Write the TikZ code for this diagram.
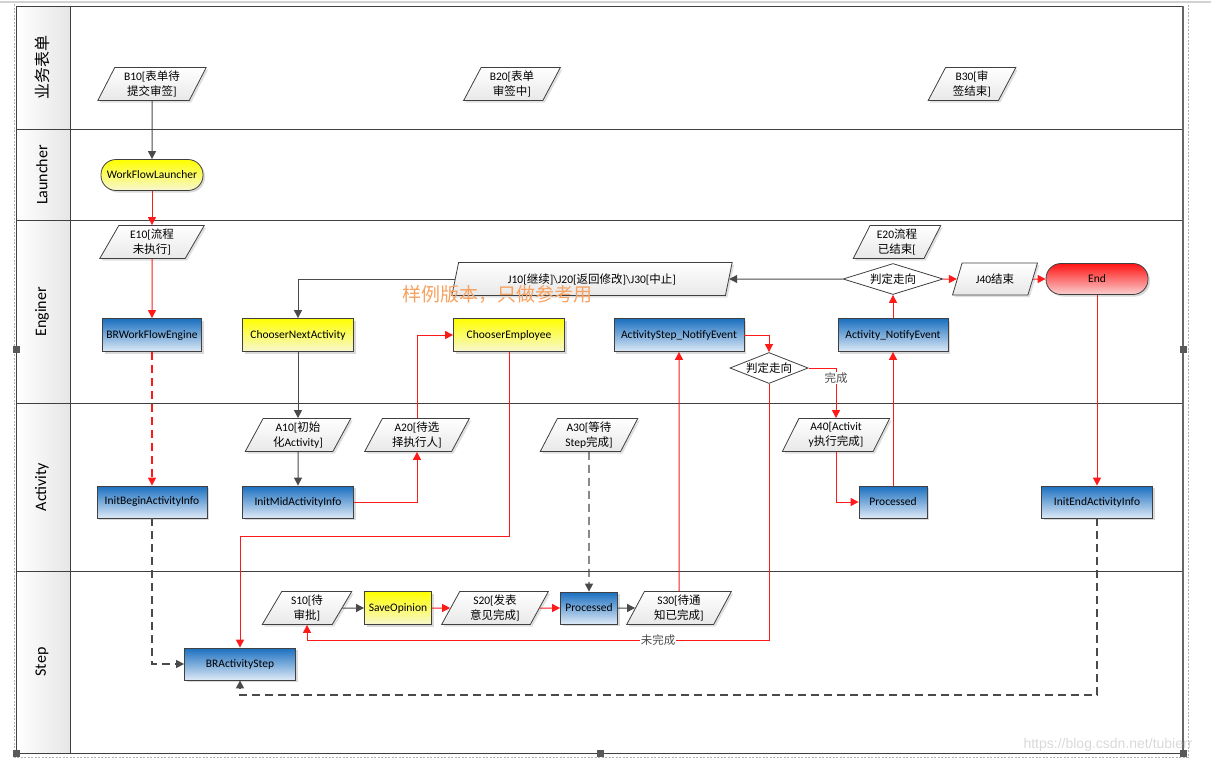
\documentclass[tikz,border=0pt]{standalone}
\usepackage{fontspec}
\setmainfont{Carlito}
\newfontfamily\cjk{Noto Sans CJK SC}
\newfontfamily\webfont{Liberation Sans}
\usetikzlibrary{shapes.geometric,arrows.meta,shadows}
\definecolor{edge}{HTML}{404040}
\definecolor{flowgray}{HTML}{4A4A4A}
\definecolor{flowred}{HTML}{FF1A1A}
\definecolor{bluetop}{HTML}{1A6FC0}
\definecolor{bluebot}{HTML}{DDE9F6}
\definecolor{yeltop}{HTML}{FFFF00}
\definecolor{yelbot}{HTML}{F7F7D0}
\definecolor{redtop}{HTML}{FF1414}
\definecolor{redbot}{HTML}{FAD0D0}
\definecolor{datafill}{HTML}{E8E8E8}
\definecolor{headfill}{HTML}{E6E6E6}
\definecolor{stamp}{HTML}{F7A160}
\newcommand\zh[1]{{\cjk #1}}
\tikzset{
  boxbase/.style={draw=edge, line width=0.8pt, minimum height=33pt, inner sep=2pt,
    font=\fontsize{11.5}{13}\selectfont,
    drop shadow={shadow xshift=2pt, shadow yshift=-2pt, fill=black!15, opacity=1}},
  bluebox/.style={boxbase, top color=bluetop, bottom color=bluebot},
  yellowbox/.style={boxbase, top color=yeltop, bottom color=yelbot},
  pillbox/.style={boxbase, rounded corners=15pt, minimum height=31pt, minimum width=102pt},
  datashape/.style={trapezium, trapezium left angle=65, trapezium right angle=115,
    trapezium stretches=true, draw=edge, line width=0.8pt, minimum height=33pt,
    inner sep=1pt, align=center, font=\fontsize{11.5}{15}\selectfont,
    top color=white, bottom color=datafill,
    drop shadow={shadow xshift=2pt, shadow yshift=-2pt, fill=black!12, opacity=1}},
  decide/.style={diamond, draw=edge, line width=0.8pt, fill=white, inner sep=0pt,
    aspect=3, minimum height=31pt, font=\fontsize{11.5}{13}\selectfont},
  grayline/.style={draw=flowgray, line width=1pt, -{Triangle[length=8pt,width=8pt]}},
  redline/.style={draw=flowred, line width=1pt, -{Triangle[length=8pt,width=8pt]}},
  graydashed/.style={grayline, line width=1.4pt, dash pattern=on 8pt off 5pt},
  reddashed/.style={redline, line width=1.3pt, dash pattern=on 8pt off 5pt},
  lanelab/.style={rotate=90, font=\fontsize{16}{18}\selectfont},
  laneline/.style={draw=edge, line width=1pt},
  tag/.style={fill=white, inner sep=1pt, text=black!70, font=\fontsize{11.5}{13}\selectfont},
}
\begin{document}
\begin{tikzpicture}[x=1pt, y=-1pt]
  \useasboundingbox (0,0) rectangle (1211,763);
  % page and pool frame
  \draw[gray!35, line width=1.5pt] (0,2) -- (1211,2);
  \draw[gray!60, dash pattern=on 2pt off 1.5pt] (14,4) -- (14,757) -- (1188,757) -- (1188,4);
  \shade[left color=white, right color=headfill] (16,6) rectangle (70,753);
  \draw[laneline] (16,6) rectangle (1183,753);
  \draw[laneline] (70,6) -- (70,753);
  \foreach \y in {129,220,403,571}
    \draw[laneline] (16,\y) -- (1183,\y);
  \draw[gray!80!black, line width=2pt] (1183,6) -- (1183,753);
  \foreach \p in {(16,349),(1183,349),(600,753),(16,753),(1183,753)}
    \fill[gray!70!black] \p ++(-3.5,-3.5) rectangle ++(7,7);

  % lane titles
  \node[lanelab] (laneform) at (42,67) {\zh{业务表单}};
  \node[lanelab] (lanelaunch) at (42,175) {Launcher};
  \node[lanelab] (laneengine) at (42,312) {Enginer};
  \node[lanelab] (laneact) at (42,487) {Activity};
  \node[lanelab] (lanestep) at (42,662) {Step};

  % form lane
  \node[datashape, minimum width=109pt] (b10) at (152,84) {B10[\zh{表单待}\\\zh{提交审签}]};
  \node[datashape, minimum width=97pt] (b20) at (512,84) {B20[\zh{表单}\\\zh{审签中}]};
  \node[datashape, minimum width=88pt] (b30) at (972,84) {B30[\zh{审}\\\zh{签结束}]};

  % launcher lane
  \node[pillbox, top color=yeltop, bottom color=yelbot] (launcher) at (152,175) {WorkFlowLauncher};

  % engine lane
  \node[datashape, minimum width=105pt] (e10) at (152,242) {E10[\zh{流程}\\\zh{未执行}]};
  \node[datashape, minimum width=88pt] (e20) at (897,242) {E20\zh{流程}\\\zh{已结束}[};
  \node[bluebox, minimum width=99pt] (engine) at (152,335) {BRWorkFlowEngine};
  \node[yellowbox, minimum width=111pt] (nextact) at (298,335) {ChooserNextActivity};
  \node[yellowbox, minimum width=111pt] (chooseemp) at (509,335) {ChooserEmployee};
  \node[bluebox, minimum width=130pt] (stepnotify) at (679,335) {ActivityStep\_NotifyEvent};
  \node[bluebox, minimum width=110pt] (actnotify) at (893,335) {Activity\_NotifyEvent};
  \node[datashape, minimum width=281pt, trapezium left angle=72, trapezium right angle=108]
    (j10) at (592,279) {J10[\zh{继续}]\textbackslash J20[\zh{返回修改}]\textbackslash J30[\zh{中止}]};
  \node[decide, minimum width=100pt] (judge1) at (893,279) {\zh{判定走向}};
  \node[datashape, minimum width=85pt, minimum height=32pt] (j40) at (995,279) {J40\zh{结束}};
  \node[pillbox, top color=redtop, bottom color=redbot] (endnode) at (1097,279) {End};
  \node[decide, minimum width=73pt] (judge2) at (769,368) {\zh{判定走向}};
  \node[text=stamp, font=\cjk\fontsize{19}{21}\selectfont] (stampmark) at (497,294) {样例版本，只做参考用};

  % activity lane
  \node[datashape, minimum width=106pt] (a10) at (298,435) {A10[\zh{初始}\\\zh{化}Activity]};
  \node[datashape, minimum width=105pt] (a20) at (417,435) {A20[\zh{待选}\\\zh{择执行人}]};
  \node[datashape, minimum width=98pt] (a30) at (589,435) {A30[\zh{等待}\\Step\zh{完成}]};
  \node[datashape, minimum width=108pt] (a40) at (836,435) {A40[Activit\\y\zh{执行完成}]};
  \node[bluebox, minimum width=110pt, minimum height=32pt] (initbegin) at (152,502) {InitBeginActivityInfo};
  \node[bluebox, minimum width=111pt, minimum height=32pt] (initmid) at (298,502) {InitMidActivityInfo};
  \node[bluebox, minimum width=68pt, minimum height=32pt] (procact) at (893,502) {Processed};
  \node[bluebox, minimum width=111pt, minimum height=32pt] (initend) at (1097,502) {InitEndActivityInfo};

  % step lane
  \node[datashape, minimum width=90pt] (s10) at (307,608) {S10[\zh{待}\\\zh{审批}]};
  \node[yellowbox, minimum width=67pt] (saveop) at (398,608) {SaveOpinion};
  \node[datashape, minimum width=107pt] (s20) at (495,608) {S20[\zh{发表}\\\zh{意见完成}]};
  \node[bluebox, minimum width=57pt, minimum height=32pt] (procs) at (589,608) {Processed};
  \node[datashape, minimum width=105pt] (s30) at (679,608) {S30[\zh{待通}\\\zh{知已完成}]};
  \node[bluebox, minimum width=111pt, minimum height=32pt] (brstep) at (240,664) {BRActivityStep};

  % bends
  \coordinate (bendE) at (509,536);
  \coordinate (bendR) at (1097,695);
  \coordinate (bendU) at (769,640);

  % connectors
  \draw[grayline] (b10) -- (launcher);
  \draw[redline] (launcher) -- (e10);
  \draw[redline] (e10) -- (engine);
  \draw[reddashed] (engine) -- (initbegin);
  \draw[graydashed] (initbegin) |- (brstep);
  \draw[grayline] (judge1) -- (j10);
  \draw[grayline] (j10) -| (nextact);
  \draw[redline] (actnotify) -- (judge1);
  \draw[redline] (judge1) -- (j40);
  \draw[redline] (j40) -- (endnode);
  \draw[redline] (endnode) -- (initend);
  \draw[graydashed] (initend) -- (bendR) -| (brstep);
  \draw[grayline] (nextact) -- (a10);
  \draw[grayline] (a10) -- (initmid);
  \draw[redline] (initmid) -| (a20);
  \draw[redline] (a20) |- (chooseemp);
  \draw[redline] (chooseemp) -- (bendE) -| (brstep);
  \draw[graydashed] (a30) -- (procs);
  \draw[grayline] (s10) -- (saveop);
  \draw[redline] (saveop) -- (s20);
  \draw[redline] (s20) -- (procs);
  \draw[grayline] (procs) -- (s30);
  \draw[redline] (s30) -- (stepnotify);
  \draw[redline] (stepnotify) -| (judge2);
  \draw[redline] (judge2) -| node[tag, pos=0.6] {\zh{完成}} (a40);
  \draw[redline] (judge2) -- (bendU) -| node[tag, pos=0.12] {\zh{未完成}} (s10);
  \draw[redline] (a40) |- (procact);
  \draw[redline] (procact) -- (actnotify);

  \node[text=gray!30, font=\webfont\fontsize{14}{16}\selectfont] (csdn) at (1108,745) {https://blog.csdn.net/tubierr};
\end{tikzpicture}
\end{document}
